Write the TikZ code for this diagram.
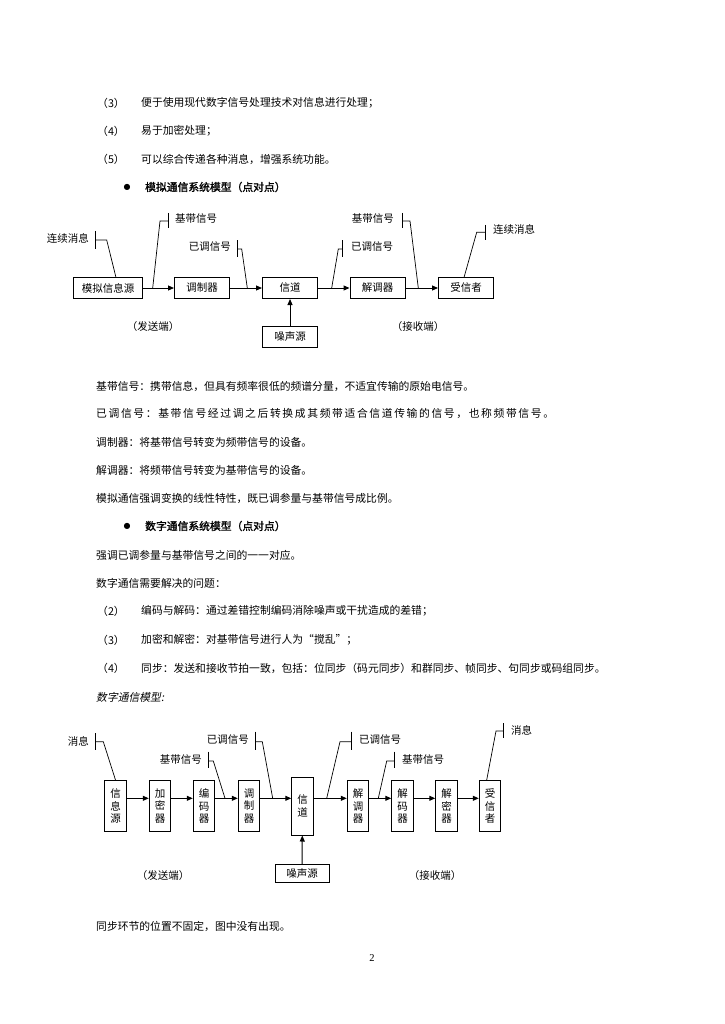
\documentclass[tikz,border=0pt]{standalone}
\usepackage{fontspec}
\setmainfont{Noto Sans CJK SC}
\newfontfamily\cjkbold[FakeBold=1.5]{Noto Sans CJK SC}
\newfontfamily\cjkit[FakeSlant=0.2]{Noto Sans CJK SC}
\newfontfamily\cjkwide[LetterSpace=15]{Noto Sans CJK SC}
\newfontfamily\numfont{Liberation Serif}
\newfontfamily\symfont{DejaVu Sans}
\usetikzlibrary{arrows.meta}

\begin{document}
\begin{tikzpicture}[
x=1pt,y=-1pt,
font=\fontsize{10.5}{12}\selectfont,
txt/.style={anchor=west,inner sep=0pt,font=\fontsize{10.8}{12}\selectfont},
blk/.style={draw,line width=1pt,minimum width=55pt,minimum height=21pt,inner sep=1pt},
vblk/.style={draw,line width=1pt,minimum width=21.5pt,minimum height=51.7pt,inner sep=0pt,align=center,font=\fontsize{10.5}{12.5}\selectfont},
arr/.style={line width=1pt,-{Triangle[length=6pt,width=5pt]}},
lead/.style={line width=0.7pt}
]
\useasboundingbox[fill=white] (0,0) rectangle (724,1024);

% text above
\node[txt] (n3) at (97,103) {（3）};
\node[txt] (l3) at (141,103) {便于使用现代数字信号处理技术对信息进行处理；};
\node[txt] (n4) at (97,131) {（4）};
\node[txt] (l4) at (141,131) {易于加密处理；};
\node[txt] (n5) at (97,159) {（5）};
\node[txt] (l5) at (141,159) {可以综合传递各种消息，增强系统功能。};
\node[inner sep=0pt] (b1) at (127,187) {\symfont\fontsize{8}{8}\selectfont ●};
\node[txt] (h1) at (145,187) {\cjkbold 模拟通信系统模型（点对点）};

% analog model
\node[blk,minimum width=69pt] (src) at (108,288) {模拟信息源};
\node[blk] (mod) at (202,288) {调制器};
\node[blk] (chan) at (290,288) {信道};
\node[blk] (demod) at (377.5,288) {解调器};
\node[blk] (sink) at (466,288) {受信者};
\node[blk] (noise) at (290,336.5) {噪声源};
\draw[arr] (src) -- (mod);
\draw[arr] (mod) -- (chan);
\draw[arr] (chan) -- (demod);
\draw[arr] (demod) -- (sink);
\draw[arr] (noise) -- (chan);

\coordinate (p1) at (116,277.5);
\coordinate (p2) at (152.7,288);
\coordinate (p3) at (247.3,288);
\coordinate (p4) at (331.7,288);
\coordinate (p5) at (418.3,288);
\coordinate (p6) at (464,277.5);
\draw[lead] (95,231) -- (95,249);
\draw[lead] (95,240) -- (106.7,240) -- (p1);
\node[anchor=east,inner sep=0pt] (c1) at (89,238) {连续消息};
\draw[lead] (168.3,213) -- (168.3,228);
\draw[lead] (168.3,221) -- (160,221) -- (p2);
\node[anchor=west,inner sep=0pt] (c2) at (175,219) {基带信号};
\draw[lead] (237.3,240) -- (237.3,257);
\draw[lead] (237.3,249) -- (241.7,249) -- (p3);
\node[anchor=east,inner sep=0pt] (c3) at (231,247) {已调信号};
\draw[lead] (342.3,240) -- (342.3,257);
\draw[lead] (342.3,249) -- (338.3,249) -- (p4);
\node[anchor=west,inner sep=0pt] (c4) at (351,247) {已调信号};
\draw[lead] (402.3,213) -- (402.3,228);
\draw[lead] (402.3,221) -- (410,221) -- (p5);
\node[anchor=east,inner sep=0pt] (c5) at (394,219) {基带信号};
\draw[lead] (485,225) -- (485,240);
\draw[lead] (485,232.3) -- (476.7,232.3) -- (p6);
\node[anchor=west,inner sep=0pt] (c6) at (493,229.3) {连续消息};
\node (tx1) at (153,327) {（发送端）};
\node (rx1) at (418,327) {（接收端）};

% text middle
\node[txt] (d1) at (96,386) {基带信号：携带信息，但具有频率很低的频谱分量，不适宜传输的原始电信号。};
\node[txt] (d2) at (96,414) {\cjkwide 已调信号：基带信号经过调之后转换成其频带适合信道传输的信号，也称频带信号。};
\node[txt] (d3) at (96,442) {调制器：将基带信号转变为频带信号的设备。};
\node[txt] (d4) at (96,470) {解调器：将频带信号转变为基带信号的设备。};
\node[txt] (d5) at (96,498) {模拟通信强调变换的线性特性，既已调参量与基带信号成比例。};
\node[inner sep=0pt] (b2) at (127,526) {\symfont\fontsize{8}{8}\selectfont ●};
\node[txt] (h2) at (145,526) {\cjkbold 数字通信系统模型（点对点）};
\node[txt] (e1) at (96,555) {强调已调参量与基带信号之间的一一对应。};
\node[txt] (e2) at (96,583) {数字通信需要解决的问题：};
\node[txt] (m2) at (97,611) {（2）};
\node[txt] (q2) at (141,611) {编码与解码：通过差错控制编码消除噪声或干扰造成的差错；};
\node[txt] (m3) at (97,640) {（3）};
\node[txt] (q3) at (141,640) {加密和解密：对基带信号进行人为“搅乱”；};
\node[txt] (m4) at (97,668) {（4）};
\node[txt] (q4) at (141,668) {同步：发送和接收节拍一致，包括：位同步（码元同步）和群同步、帧同步、句同步或码组同步。};
\node[txt] (e3) at (96,697) {\cjkit 数字通信模型:};

% digital model
\node[vblk] (info) at (115.5,806) {信\\息\\源};
\node[vblk] (encr) at (160,806) {加\\密\\器};
\node[vblk] (code) at (204,806) {编\\码\\器};
\node[vblk] (mod2) at (249,806) {调\\制\\器};
\node[vblk,minimum height=58pt] (chan2) at (302.5,806) {信\\道};
\node[vblk] (demod2) at (358,806) {解\\调\\器};
\node[vblk] (dec) at (402.5,806) {解\\码\\器};
\node[vblk] (decr) at (446.5,806) {解\\密\\器};
\node[vblk] (sink2) at (490,806) {受\\信\\者};
\node[blk,minimum width=54pt,minimum height=18.5pt] (noise2) at (302,873.5) {噪声源};
\foreach \a/\b in {info/encr,encr/code,code/mod2,mod2/chan2,chan2/demod2,demod2/dec,dec/decr,decr/sink2}
  \draw[arr] ([yshift=7.7pt]\a.east) -- ([yshift=7.7pt]\b.west);
\draw[arr] (noise2) -- (chan2);

\coordinate (q1) at (115.5,780);
\coordinate (q2) at (225,798.3);
\coordinate (q3) at (272.7,798.3);
\coordinate (q4) at (326.7,798.3);
\coordinate (q5) at (378.3,798.3);
\coordinate (q6) at (486.7,780);
\draw[lead] (95,733) -- (95,750);
\draw[lead] (95,741.7) -- (103.3,741.7) -- (q1);
\node[anchor=east,inner sep=0pt] (k1) at (89,741) {消息};
\draw[lead] (208.3,751.7) -- (208.3,768.3);
\draw[lead] (208.3,761) -- (213.3,761) -- (q2);
\node[anchor=east,inner sep=0pt] (k2) at (202,759.3) {基带信号};
\draw[lead] (255.7,731.7) -- (255.7,750);
\draw[lead] (255.7,741.7) -- (262.3,741.7) -- (q3);
\node[anchor=east,inner sep=0pt] (k3) at (249,740) {已调信号};
\draw[lead] (351,731.7) -- (351,750);
\draw[lead] (351,741.7) -- (340,741.7) -- (q4);
\node[anchor=west,inner sep=0pt] (k4) at (359,740) {已调信号};
\draw[lead] (394.3,751.7) -- (394.3,768.3);
\draw[lead] (394.3,761) -- (386.7,761) -- (q5);
\node[anchor=west,inner sep=0pt] (k5) at (402,759.3) {基带信号};
\draw[lead] (503.3,723.3) -- (503.3,738.3);
\draw[lead] (503.3,731) -- (496,731) -- (q6);
\node[anchor=west,inner sep=0pt] (k6) at (511,730) {消息};
\node (tx2) at (163,875) {（发送端）};
\node (rx2) at (435,875) {（接收端）};

% text below
\node[txt] (f1) at (96,926) {同步环节的位置不固定，图中没有出现。};
\node (pg) at (372,958) {\numfont 2};
\end{tikzpicture}
\end{document}
